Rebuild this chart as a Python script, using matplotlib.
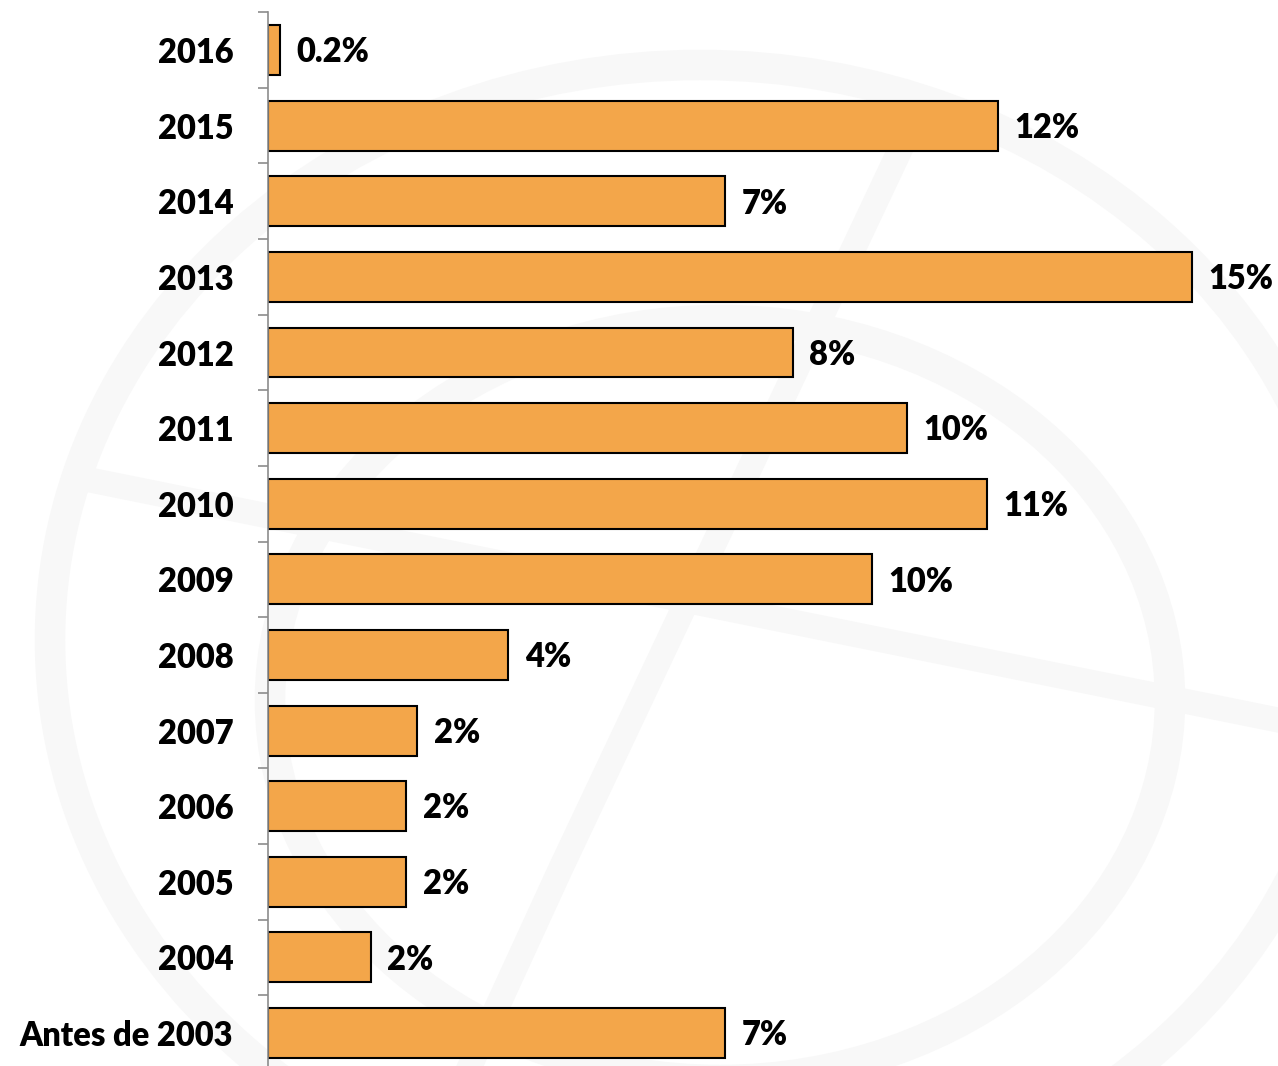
import matplotlib.pyplot as plt
from matplotlib.patches import Ellipse
import numpy as np

categorias = ['2016', '2015', '2014', '2013', '2012', '2011', '2010',
              '2009', '2008', '2007', '2006', '2005', '2004', 'Antes de 2003']
valores = [0.19, 11.85, 7.42, 15.0, 8.52, 10.37, 11.67,
           9.8, 3.9, 2.42, 2.24, 2.24, 1.67, 7.42]
rotulos = ['0.2%', '12%', '7%', '15%', '8%', '10%', '11%',
           '10%', '4%', '2%', '2%', '2%', '2%', '7%']

plt.rcParams['font.family'] = ['Lato', 'DejaVu Sans']

fig = plt.figure(figsize=(12.78, 10.66), dpi=100)

# marca d'agua bem clara no fundo
bg = fig.add_axes([0, 0, 1, 1], zorder=-1)
bg.set_xlim(0, 1278)
bg.set_ylim(1066, 0)
bg.axis('off')
bg.add_patch(Ellipse((700, 640), 1300, 1150, fill=False, ec='#f8f8f8', lw=22))
bg.add_patch(Ellipse((720, 700), 900, 760, fill=False, ec='#f8f8f8', lw=22))
bg.plot([90, 1278], [480, 720], color='#f8f8f8', lw=18)
bg.plot([900, 560, 470], [150, 870, 1066], color='#f8f8f8', lw=18)

ax = fig.add_axes([268 / 1278, -0.0045, 1 - 268 / 1278, 0.993])
ax.patch.set_alpha(0)
y = np.arange(len(categorias))
ax.barh(y, valores, height=0.66, color='#F3A64A', edgecolor='black', linewidth=1.5)

for yi, v, r in zip(y, valores, rotulos):
    ax.text(v + 0.27, yi + 0.03, r, va='center', ha='left', fontsize=23.5, fontweight='heavy')

ax.set_ylim(len(categorias) - 0.5, -0.5)
ax.set_xlim(0, 16.4)
ax.set_yticks(y)
ax.set_yticklabels(categorias, fontsize=23.5, fontweight='heavy')
ax.set_yticks(np.arange(-0.5, len(categorias)), minor=True)
ax.tick_params(axis='y', which='major', length=0, pad=25)
ax.tick_params(axis='y', which='minor', length=7.5, width=1.2, color='#8c8c8c', direction='out')
ax.set_xticks([])
for s in ['top', 'right', 'bottom']:
    ax.spines[s].set_visible(False)
ax.spines['left'].set_color('#8c8c8c')
ax.spines['left'].set_linewidth(1.2)

fig.savefig('out.png', dpi=100)
